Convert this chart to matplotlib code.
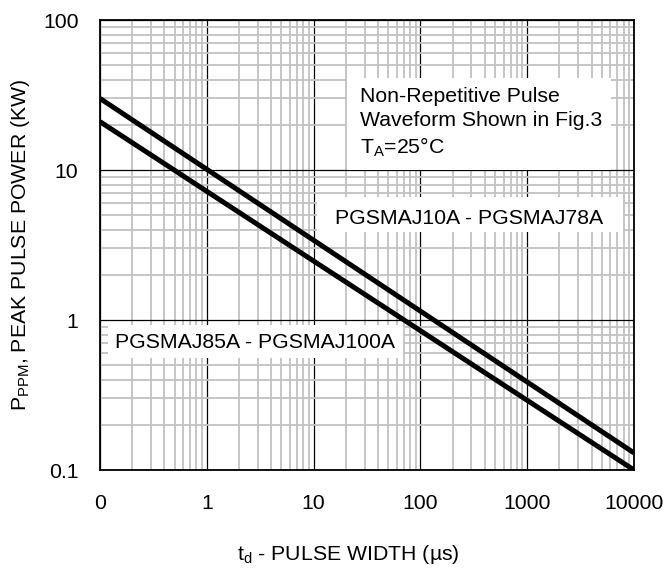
import matplotlib
matplotlib.use('Agg')
import matplotlib.pyplot as plt
from matplotlib.patches import Rectangle
import numpy as np

plt.rcParams['font.family'] = ['Liberation Sans', 'DejaVu Sans']
plt.rcParams['mathtext.fontset'] = 'custom'
plt.rcParams['mathtext.rm'] = 'Liberation Sans'

# pulse width (us) and peak pulse power (kW)
pulse_width = [0.1, 10000]
ppm_10a_78a = [30, 0.13]
ppm_85a_100a = [21, 0.1]

x_ticks = [0.1, 1, 10, 100, 1000, 10000]
x_tick_labels = ['0', '1', '10', '100', '1000', '10000']
y_ticks = [0.1, 1, 10, 100]
y_tick_labels = ['0.1', '1', '10', '100']

FS = 15.3

fig = plt.figure(figsize=(6.63, 5.74), dpi=100)
ax = fig.add_axes([100 / 663, 104 / 574, 534 / 663, 450 / 574])

ax.plot(pulse_width, ppm_10a_78a, color='black', lw=3.6, solid_capstyle='butt', zorder=5)
ax.plot(pulse_width, ppm_85a_100a, color='black', lw=3.6, solid_capstyle='butt', zorder=5)

ax.set_xscale('log')
ax.set_yscale('log')
ax.set_xlim(0.1, 10000)
ax.set_ylim(0.1, 100)
ax.set_xticks(x_ticks, x_tick_labels)
ax.set_yticks(y_ticks, y_tick_labels)
ax.xaxis.set_minor_locator(matplotlib.ticker.LogLocator(base=10, subs=np.arange(2, 10)))
ax.yaxis.set_minor_locator(matplotlib.ticker.LogLocator(base=10, subs=np.arange(2, 10)))
ax.xaxis.set_minor_formatter(matplotlib.ticker.NullFormatter())
ax.yaxis.set_minor_formatter(matplotlib.ticker.NullFormatter())
ax.tick_params(which='both', length=0)
ax.tick_params(axis='x', pad=17, labelsize=FS)
ax.tick_params(axis='y', pad=15.5, labelsize=FS)

ax.set_axisbelow(True)
ax.grid(which='minor', color='#c2c2c2', lw=1.3)
ax.grid(which='major', color='black', lw=0.9)
for s in ax.spines.values():
    s.set_color('black')
    s.set_linewidth(1.3)

ax.set_xlabel(r'$\mathregular{t_d}$ - PULSE WIDTH (µs)', fontsize=FS)
ax.xaxis.set_label_coords(0.465, -0.162)
ax.set_ylabel(r'$\mathregular{P_{PPM}}$, PEAK PULSE POWER (KW)', fontsize=FS)
ax.yaxis.set_label_coords(-0.127, 0.5)

# white label boxes over the grid (axes fraction)
def box(x0, x1, y0, y1):
    ax.add_patch(Rectangle((x0, y0), x1 - x0, y1 - y0, transform=ax.transAxes,
                           facecolor='white', edgecolor='none', zorder=3))

box(247 / 534, 511 / 534, 1 - 150 / 450, 1 - 58 / 450)
ax.text(260 / 534, 1 - 103 / 450,
        'Non-Repetitive Pulse\nWaveform Shown in Fig.3\n' + r'T$_\mathregular{A}$=25°C',
        transform=ax.transAxes, ha='left', va='center', fontsize=FS,
        linespacing=1.3, zorder=4)

box(217 / 534, 523 / 534, 1 - 212 / 450, 1 - 177 / 450)
ax.text(235 / 534, 1 - 199 / 450, 'PGSMAJ10A - PGSMAJ78A', transform=ax.transAxes,
        ha='left', va='center', fontsize=FS, zorder=4)

box(8 / 534, 303 / 534, 1 - 338 / 450, 1 - 305 / 450)
ax.text(15 / 534, 1 - 322 / 450, 'PGSMAJ85A - PGSMAJ100A', transform=ax.transAxes,
        ha='left', va='center', fontsize=FS, zorder=4)

fig.savefig('out.png', dpi=100)
